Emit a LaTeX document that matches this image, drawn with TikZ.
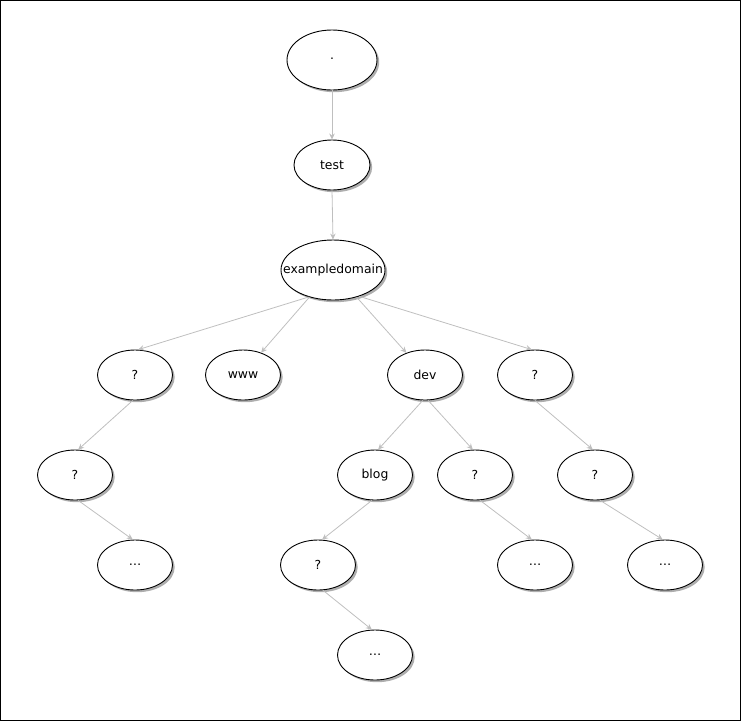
\documentclass[tikz,border=0pt]{standalone}
\usepackage{fontspec}
\setmainfont{DejaVu Sans}
\usetikzlibrary{shapes.geometric,shadows,arrows.meta}
\begin{document}
\begin{tikzpicture}[x=1pt,y=-1pt,
  every node/.style={font=\fontsize{12.4}{14}\selectfont},
  nd/.style={ellipse, draw=black, line width=0.9pt, fill=white, inner sep=0pt,
    minimum width=75pt, minimum height=50pt,
    drop shadow={shadow xshift=2.2pt, shadow yshift=-2.2pt, fill=black!45, opacity=0.7}},
  edge/.style={draw=black!25, line width=0.8pt, -{Stealth[length=6pt,width=5.5pt]}}
]
\useasboundingbox (0,0) rectangle (741,721);
\draw[line width=1pt] (0.5,0.5) rectangle (740.5,720.5);

\node[nd, minimum width=90pt, minimum height=60pt] (dot) at (332,60) {\raisebox{2pt}{.}};
\node[nd, minimum width=76pt] (test) at (332,165) {test};
\node[nd, minimum width=104pt, minimum height=60pt] (ex) at (333,270) {\makebox[0pt]{exampledomain}};
\node[nd] (q1) at (135,375) {?};
\node[nd] (www) at (243,375) {www};
\node[nd] (dev) at (425,375) {dev};
\node[nd] (q2) at (535,375) {?};
\node[nd] (q3) at (75,475) {?};
\node[nd] (blog) at (375,475) {blog};
\node[nd] (q4) at (475,475) {?};
\node[nd] (q5) at (595,475) {?};
\node[nd] (d1) at (135,565) {…};
\node[nd] (q6) at (318,565) {?};
\node[nd] (d2) at (535,565) {…};
\node[nd] (d3) at (665,565) {…};
\node[nd] (d4) at (375,655) {…};

\draw[edge] (dot.south) -- (test.north);
\draw[edge] (test.south) -- (ex.north);
\draw[edge] (ex.228) -- (q1.83);
\draw[edge] (ex.229) -- (www.51);
\draw[edge] (ex.311) -- (dev.130);
\draw[edge] (ex.315) -- (q2.97);
\draw[edge] (q1.265) -- (q3.83);
\draw[edge] (q3.277) -- (d1.95);
\draw[edge] (q2.270) -- (q5.95);
\draw[edge] (q5.281) -- (d3.95);
\draw[edge] (dev.265) -- (blog.83);
\draw[edge] (dev.277) -- (q4.95);
\draw[edge] (q4.281) -- (d2.97);
\draw[edge] (blog.263) -- (q6.81);
\draw[edge] (q6.281) -- (d4.97);
\end{tikzpicture}
\end{document}
